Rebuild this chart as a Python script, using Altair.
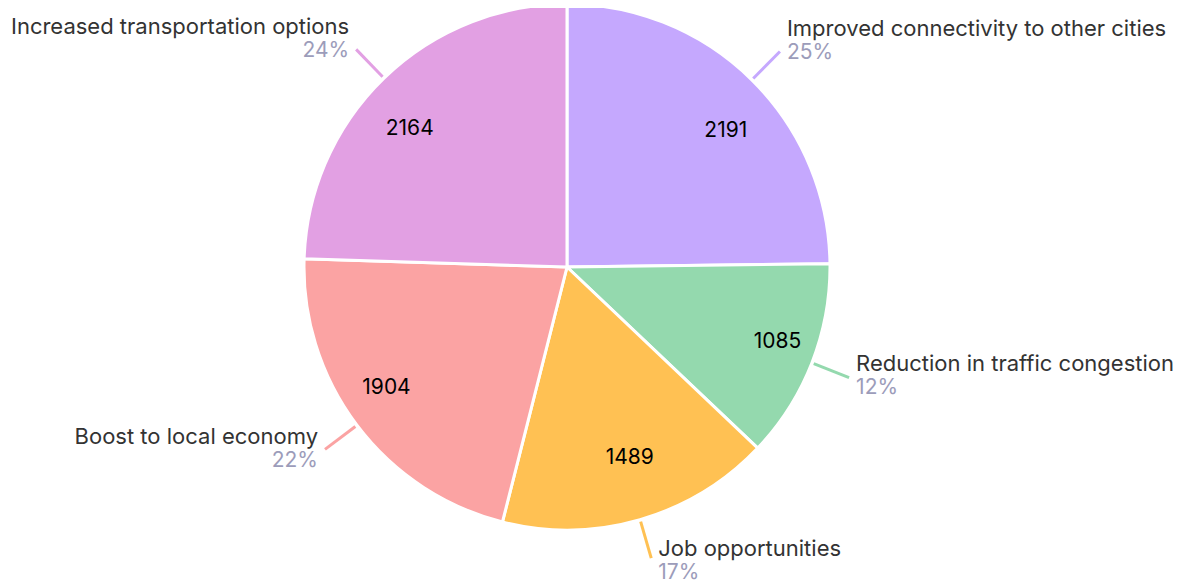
import altair as alt
import pandas as pd

labels = [
    "Improved connectivity to other cities",
    "Reduction in traffic congestion",
    "Job opportunities",
    "Boost to local economy",
    "Increased transportation options",
]
values = [2191, 1085, 1489, 1904, 2164]
colors = ["#C5A8FE", "#94D9AE", "#FFC153", "#FBA3A3", "#E2A0E3"]

df = pd.DataFrame({"label": labels, "value": values, "order": list(range(len(labels)))})

CX, CY, R = 559, 259, 263
VA, VB = 226, 196
R_L0, R_L1 = 265, 303
FONT = "Inter"

base = (
    alt.Chart(df)
    .transform_joinaggregate(total="sum(value)")
    .transform_window(cum="sum(value)", sort=[alt.SortField("order")], frame=[None, 0])
    .transform_calculate(
        a0="(datum.cum - datum.value) / datum.total * 2 * PI",
        a1="datum.cum / datum.total * 2 * PI",
    )
    .transform_calculate(mid="(datum.a0 + datum.a1) / 2")
    .transform_calculate(
        pct="format(datum.value / datum.total * 100, '.0f') + '%'",
        vx=f"{CX} + {VA} * sin(datum.mid)",
        vy=f"{CY} + 3 - {VB} * cos(datum.mid)",
        lx0=f"{CX} + {R_L0} * sin(datum.mid)",
        ly0=f"{CY} - {R_L0} * cos(datum.mid)",
        lx1=f"{CX} + {R_L1} * sin(datum.mid)",
        ly1=f"{CY} - {R_L1} * cos(datum.mid)",
        side="sin(datum.mid) >= 0 ? 1 : -1",
    )
    .transform_calculate(
        tx="datum.lx1 + datum.side * 7",
        off="-5 - 8 * cos(datum.mid)",
    )
    .transform_calculate(
        ny="datum.ly1 + datum.off - 12",
        py="datum.ly1 + datum.off + 12",
    )
)

color = alt.Color("label:N", scale=alt.Scale(domain=labels, range=colors), legend=None)

arcs = base.mark_arc(outerRadius=R, stroke="white", strokeWidth=3).encode(
    theta=alt.Theta("a0:Q", scale=None),
    theta2="a1:Q",
    x=alt.value(CX),
    y=alt.value(CY),
    color=color,
)

leaders = base.mark_rule(strokeWidth=3).encode(
    x=alt.X("lx0:Q", scale=None),
    y=alt.Y("ly0:Q", scale=None),
    x2="lx1:Q",
    y2="ly1:Q",
    color=color,
)

vals = base.mark_text(font=FONT, fontSize=21, color="#000000", baseline="middle").encode(
    x=alt.X("vx:Q", scale=None),
    y=alt.Y("vy:Q", scale=None),
    text="value:Q",
)

right = base.transform_filter("datum.side > 0")
left = base.transform_filter("datum.side < 0")

def names(src, align):
    return src.mark_text(font=FONT, fontSize=22, color="#333333", baseline="middle", align=align).encode(
        x=alt.X("tx:Q", scale=None),
        y=alt.Y("ny:Q", scale=None),
        text="label:N",
    )

def pcts(src, align):
    return src.mark_text(font=FONT, fontSize=21, color="#9C9CBA", baseline="middle", align=align).encode(
        x=alt.X("tx:Q", scale=None),
        y=alt.Y("py:Q", scale=None),
        text="pct:N",
    )

chart = (
    alt.layer(arcs, leaders, vals, names(right, "left"), pcts(right, "left"), names(left, "right"), pcts(left, "right"))
    .properties(width=1169, height=575, padding=0, autosize=alt.AutoSizeParams(type="none"))
    .configure_view(stroke=None)
)

chart.save("out.html", embed_options={"renderer": "svg", "actions": False})
